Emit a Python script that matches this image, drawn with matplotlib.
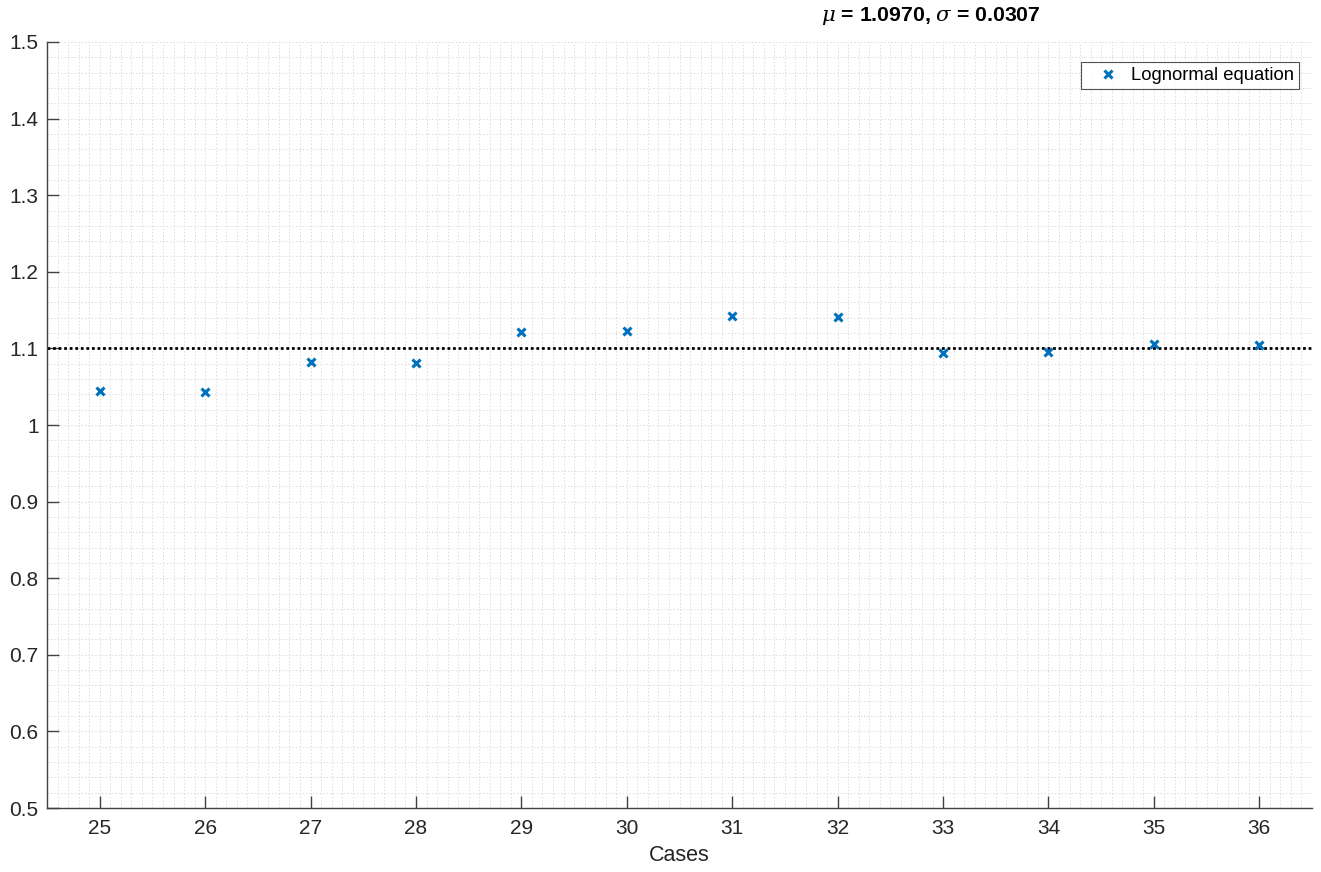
import matplotlib
matplotlib.use("Agg")
import matplotlib.pyplot as plt
from matplotlib.ticker import MultipleLocator

plt.rcParams['font.family'] = ['Liberation Sans', 'DejaVu Sans']
plt.rcParams['mathtext.fontset'] = 'dejavuserif'

cases = [25, 26, 27, 28, 29, 30, 31, 32, 33, 34, 35, 36]
ratio = [1.0444, 1.0431, 1.0822, 1.0809, 1.1214, 1.1227,
         1.1423, 1.1410, 1.0940, 1.0953, 1.1057, 1.1044]
reference_level = 1.1
mu, sigma = 1.0970, 0.0307

fig = plt.figure(figsize=(13.21, 8.72), dpi=100)
ax = fig.add_axes([47 / 1321, 64 / 872, 1265 / 1321, 766 / 872])

ax.plot(cases, ratio, linestyle='none', marker='x', color='#0072BD',
        markersize=6, markeredgewidth=2.2, label='Lognormal equation', zorder=3)
ax.axhline(reference_level, color='black', linestyle=(0, (1, 1)), linewidth=2, zorder=2)

ax.set_xlim(24.5, 36.5)
ax.set_ylim(0.5, 1.5)
ax.set_xticks(cases)
ax.set_yticks([0.5, 0.6, 0.7, 0.8, 0.9, 1.0, 1.1, 1.2, 1.3, 1.4, 1.5])
ax.set_yticklabels(['0.5', '0.6', '0.7', '0.8', '0.9', '1', '1.1', '1.2', '1.3', '1.4', '1.5'])
ax.xaxis.set_minor_locator(MultipleLocator(0.1))
ax.yaxis.set_minor_locator(MultipleLocator(0.02))

ax.grid(which='both', color='#dcdcdc', linestyle=(0, (1.5, 2)), linewidth=0.7)
ax.set_axisbelow(True)

for side in ('top', 'right'):
    ax.spines[side].set_visible(False)
for side in ('left', 'bottom'):
    ax.spines[side].set_color('#404040')
    ax.spines[side].set_linewidth(1.0)

ax.tick_params(which='major', direction='in', length=8.5, width=1.0,
               colors='#404040', labelcolor='#262626', labelsize=15, pad=6)
ax.tick_params(which='minor', length=0)
ax.tick_params(axis='x', pad=8)

ax.set_xlabel('Cases', fontsize=15.5, color='#262626', labelpad=5)

leg = ax.legend(loc='upper right', fontsize=13.3, frameon=True, fancybox=False,
                edgecolor='#262626', borderpad=0.28, handletextpad=0.1,
                handlelength=2.3, borderaxespad=0, bbox_to_anchor=(0.9897, 0.974))
leg.get_frame().set_linewidth(0.8)

fig.text(931 / 1321, 1 - 16 / 872, r'$\mu$ = 1.0970, $\sigma$ = 0.0307',
         ha='center', va='center', fontsize=15.3, fontweight='bold', color='black')

fig.savefig('out.png', dpi=100)
